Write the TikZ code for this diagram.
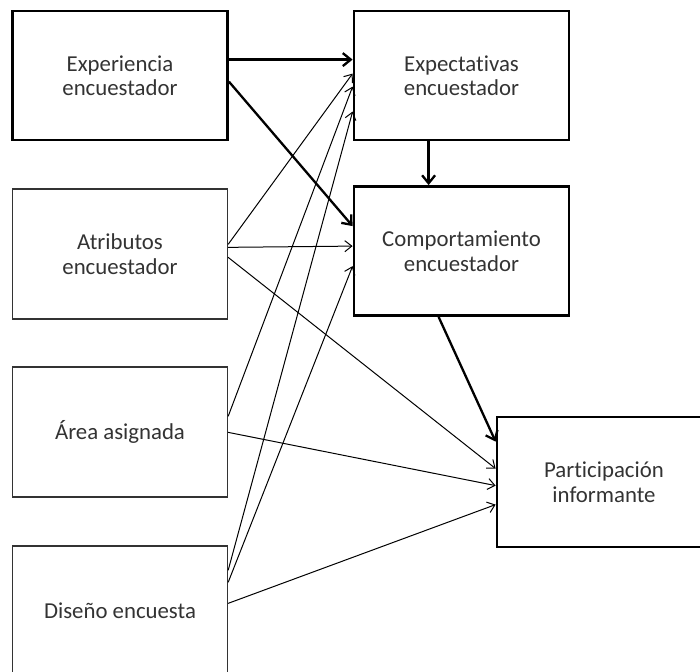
\documentclass[tikz,border=0pt]{standalone}
\usepackage{fontspec}
\setmainfont{Carlito}[Ligatures=NoCommon]
\usetikzlibrary{arrows.meta}
\begin{document}
\begin{tikzpicture}[x=1pt,y=-1pt,
  thickbox/.style={draw, line width=2.8pt, minimum width=215pt, minimum height=129pt,
    align=center, font=\fontsize{22.8}{24.5}\selectfont, inner sep=0pt, text=black!80},
  thinbox/.style={thickbox, line width=1.3pt, draw=black!80},
  thinarr/.style={line width=1pt, -{Straight Barb[length=7pt,width=11pt]}},
  boldarr/.style={line width=2.3pt, -{Straight Barb[length=8pt,width=13pt]}}]
\useasboundingbox (0,0) rectangle (700,671);
\clip (0,0) rectangle (700,671);

\node[thickbox] (exper)  at (120,75.5)  {Experiencia\\encuestador};
\node[thickbox] (expect) at (461.5,75.5) {Expectativas\\encuestador};
\node[thickbox] (comp)   at (461.5,251) {Comportamiento\\encuestador};
\node[thinbox, minimum height=130pt]  (atrib)  at (120,254)  {Atributos\\encuestador};
\node[thinbox, minimum height=130pt]  (area)   at (120,432)  {Área asignada};
\node[thinbox, minimum height=129pt]  (dis)    at (120,610.5) {Diseño encuesta};
\node[thickbox, minimum width=214pt, minimum height=130pt] (part) at (604,482) {Participación\\informante};

% bold arrows
\draw[boldarr] ([yshift=-50pt]exper.north east) -- ([yshift=-50pt]expect.north west);
\draw[boldarr] ([yshift=-72pt]exper.north east) -- ([yshift=-41pt]comp.north west);
\draw[boldarr] ([xshift=76pt]expect.south west) -- ([xshift=76pt]comp.north west);
\draw[boldarr] ([xshift=86pt]comp.south west) -- ([yshift=-26pt]part.north west);

% thin arrows
\draw[thinarr] ([yshift=-56pt]atrib.north east) -- ([yshift=-64pt]expect.north west);
\draw[thinarr] ([yshift=-59pt]atrib.north east) -- ([yshift=-61pt]comp.north west);
\draw[thinarr] ([yshift=-69pt]atrib.north east) -- ([yshift=-53pt]part.north west);
\draw[thinarr] ([yshift=-50pt]area.north east) -- ([yshift=-77pt]expect.north west);
\draw[thinarr] ([yshift=-66pt]area.north east) -- ([yshift=-70pt]part.north west);
\draw[thinarr] ([yshift=-25pt]dis.north east) -- ([yshift=-102pt]expect.north west);
\draw[thinarr] ([yshift=-37pt]dis.north east) -- ([yshift=-81pt]comp.north west);
\draw[thinarr] ([yshift=-58pt]dis.north east) -- ([yshift=-89pt]part.north west);
\end{tikzpicture}
\end{document}
